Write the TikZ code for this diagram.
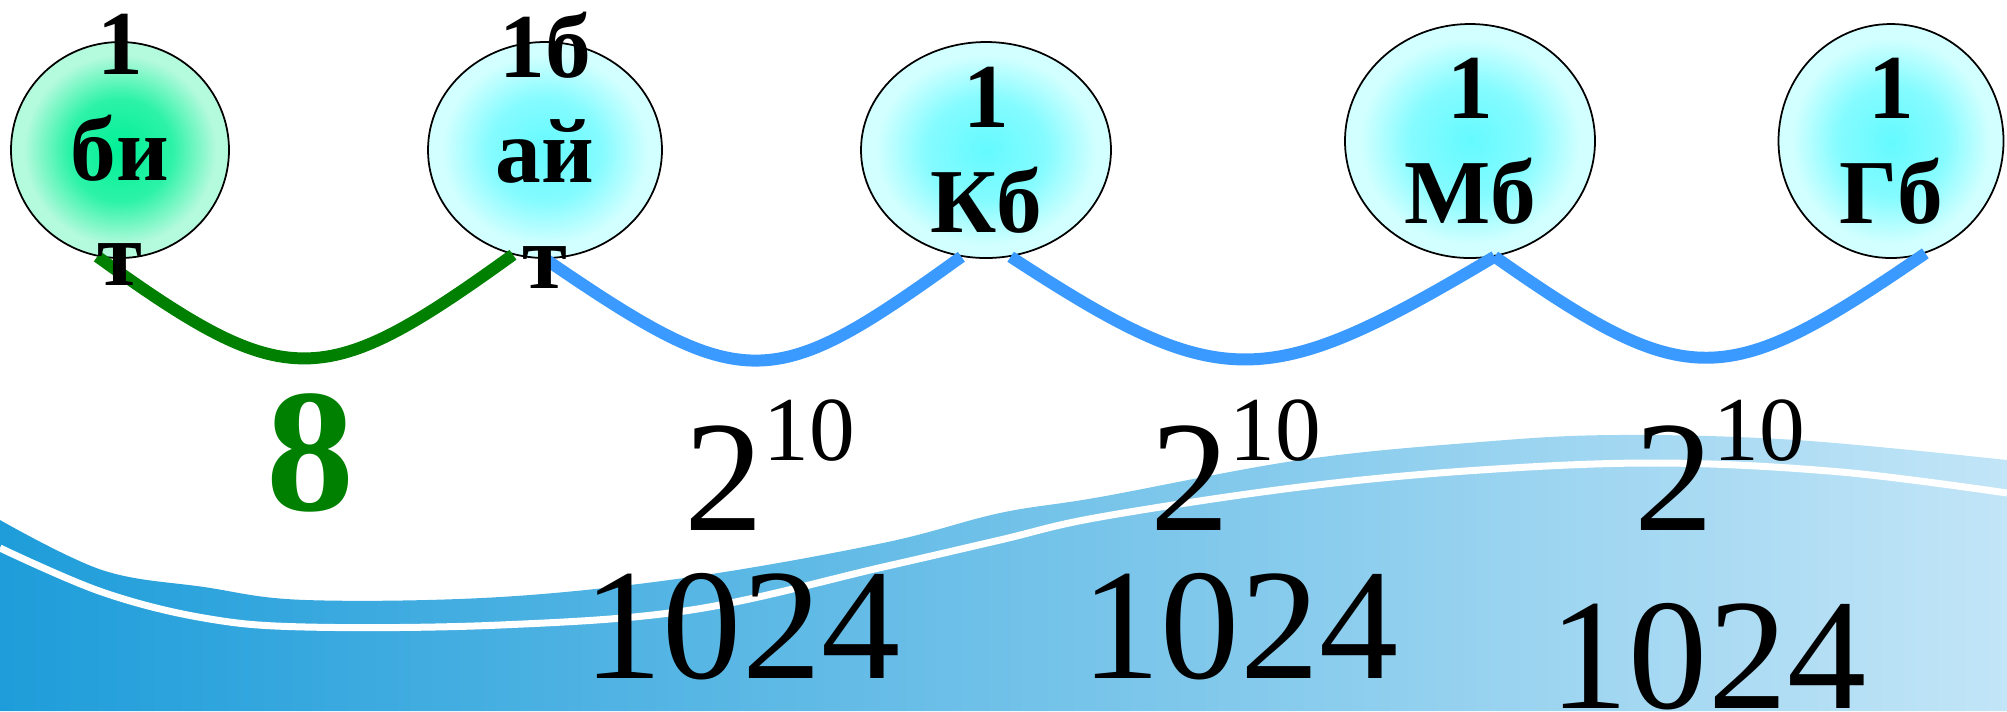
\documentclass[tikz,border=0pt]{standalone}
\usepackage{fontspec}
\setmainfont{Liberation Serif}
\usetikzlibrary{shapes.geometric}
\definecolor{infGreen}{HTML}{008000}
\definecolor{infMint}{HTML}{00F096}
\definecolor{infMintPale}{HTML}{B4FADC}
\definecolor{infCyan}{HTML}{64FAFF}
\definecolor{infCyanPale}{HTML}{D2FFFF}
\definecolor{infBlue}{HTML}{3A9AFF}
\definecolor{infSeaDeep}{HTML}{1E9DDA}
\definecolor{infSeaMid}{HTML}{62BDE8}
\definecolor{infSeaPale}{HTML}{C2E5F7}
\pgfdeclareradialshading{infGlowMint}{\pgfpoint{0bp}{0bp}}{color(0bp)=(infMint); color(12bp)=(infMint!75!infMintPale); color(22bp)=(infMintPale); color(50bp)=(infMintPale)}
\pgfdeclareradialshading{infGlowCyan}{\pgfpoint{0bp}{0bp}}{color(0bp)=(infCyan); color(12bp)=(infCyan!70!infCyanPale); color(22bp)=(infCyanPale); color(50bp)=(infCyanPale)}
\newcommand\infpow{2\raisebox{7mm}{\fontsize{26}{30}\selectfont 10}}
\tikzset{
  inf bubble/.style={ellipse, draw=black, line width=0.5pt, inner sep=0pt, shading=infGlowCyan},
  inf green bubble/.style={inf bubble, shading=infGlowMint},
  inf name/.style={font=\bfseries\fontsize{26}{30}\selectfont, align=center, inner sep=0pt},
  inf link/.style={draw=infBlue, line width=3.4pt},
  inf green link/.style={inf link, draw=infGreen},
  inf num/.style={font=\fontsize{45}{50}\selectfont, anchor=base, inner sep=0pt},
}
\begin{document}
\begin{tikzpicture}[x=0.1mm,y=-0.1mm]
\useasboundingbox (0,0) rectangle (2007,711);
\shade[left color=infSeaDeep, middle color=infSeaMid, right color=infSeaPale] plot[smooth, tension=0.6] coordinates {(0,520) (102,570) (204,587) (306,600) (500,597) (691,577) (883,543) (1000,513) (1100,497) (1300,460) (1480,442) (1616,435) (1796,440) (2007,460)} -- (2007,711) -- (0,711) -- cycle;
\draw[white, line width=0.7mm] plot[smooth, tension=0.6] coordinates {(0,548) (102,592) (204,618) (306,627) (500,625) (691,610) (883,567) (1000,540) (1100,517) (1300,487) (1480,470) (1661,463) (1841,472) (2007,493)};
\node[inf green bubble, minimum width=21.8mm, minimum height=21.6mm] (bit) at (120,150) {};
\node[inf bubble, minimum width=23.4mm, minimum height=21.6mm] (byte) at (545,150) {};
\node[inf bubble, minimum width=25mm, minimum height=21.6mm] (kb) at (986,150) {};
\node[inf bubble, minimum width=25mm, minimum height=23.4mm] (mb) at (1470,141) {};
\node[inf bubble, minimum width=22.5mm, minimum height=23.4mm] (gb) at (1891,141) {};
\draw[inf green link] (bit.-102) .. controls +(190,137) and +(-190,137) .. (byte.-107);
\draw[inf link] (byte.-90) .. controls +(200,137) and +(-190,137) .. (kb.-103);
\draw[inf link] (kb.-77) .. controls +(210,137) and +(-230,137) .. (mb.-78);
\draw[inf link] (mb.-78) .. controls +(195,137) and +(-200,137) .. (gb.-73);
\node[inf name] (bitT) at (bit) {1\\би\\т};
\node[inf name] (byteT) at (byte) {1б\\ай\\т};
\node[inf name] (kbT) at (kb) {1\\Кб};
\node[inf name] (mbT) at (mb) {1\\Мб};
\node[inf name] (gbT) at (gb) {1\\Гб};
\node[inf num, font=\bfseries\fontsize{50}{56}\selectfont, text=infGreen] (eight) at (310,510) {8};
\foreach \i/\x in {1/770,2/1236,3/1720}{\node[inf num] (pow\i) at (\x,530) {\infpow};}
\foreach \i/\x/\y in {1/742/678,2/1240/678,3/1708/708}{\node[inf num] (kilo\i) at (\x,\y) {1024};}
\end{tikzpicture}
\end{document}
